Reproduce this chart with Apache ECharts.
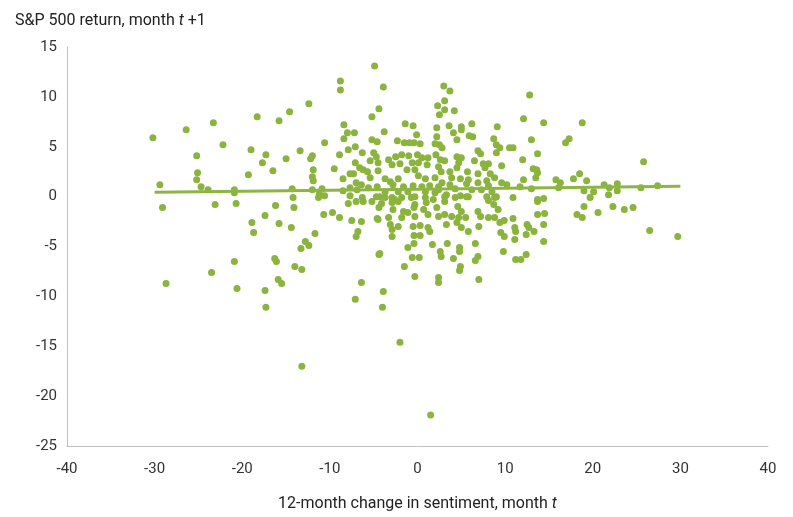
<!DOCTYPE html>
<html>
<head>
<meta charset="utf-8">
<script src="https://cdn.jsdelivr.net/npm/echarts@6/dist/echarts.min.js"></script>
<style>html,body{margin:0;padding:0;background:#fff}#c{width:793px;height:517px}</style>
</head>
<body>
<div id="c"></div>
<script>
// 12-month change in sentiment (month t), S&P 500 return (month t+1)
const sentimentChange = [
-30.2,-29.4,-26.4,-23.3,-25.2,-25.1,-25.2,-24.7,-23.9,-22.2,-20.9,-20.9,-18.3,-15.8,-14.6,-19.0,-17.3,-17.7,-16.5,-19.3,-15.0,-14.3,-14.2,
-4.9,-8.8,-8.8,-12.4,-4.4,-5.2,-8.4,-8.0,-7.2,-8.4,-5.2,-4.6,-10.6,-7.1,-7.9,-13.4,-6.3,-8.9,-12.0,-12.2,-5.0,-4.7,-7.1,-5.4,-4.5,-6.6,-6.2,-5.7,-11.9,-9.5,-7.3,-7.7,-12.0,-11.9,-8.5,-5.4,-7.0,-6.4,-12.0,-10.9,-8.5,-7.7,-6.9,-5.6,-4.6,-11.2,-10.6,-7.7,-6.3,-4.7,
-29.1,-23.1,-20.7,-16.2,-14.1,-17.4,-18.9,-18.7,-15.8,-14.4,-20.9,-23.5,-28.7,-20.6,-17.4,-17.3,-16.3,-16.1,-15.9,-15.5,-14.0,
-11.3,-7.9,-7.0,-6.2,-5.2,-4.4,-10.7,-9.7,-8.9,-7.5,-6.4,-4.6,-11.7,-12.8,-12.4,-13.3,-6.8,-7.0,-4.4,-13.2,-6.4,-7.1,
-3.9,2.3,2.5,-1.4,-0.5,-3.8,-0.1,2.2,-2.3,-1.5,-0.9,-0.4,0.3,2.0,2.5,-3.3,-2.5,-1.8,-1.0,0.0,0.5,1.2,2.1,-2.9,-2.0,-0.6,0.1,1.1,2.4,-1.2,-0.3,-4.5,-3.7,-3.1,-2.2,0.1,0.9,2.0,-2.8,-1.6,-0.5,0.5,1.4,2.4,-3.7,-2.2,-1.1,0.9,2.0,-4.3,-2.9,-0.3,
3.0,3.7,3.1,3.1,4.2,3.6,5.0,6.2,9.1,4.1,5.0,5.9,6.3,2.2,4.5,8.7,9.0,9.4,10.5,2.8,6.9,7.2,9.0,4.5,5.0,2.6,3.1,6.5,4.7,7.5,8.1,9.6,4.5,7.7,2.7,3.7,5.7,6.9,8.3,3.9,4.9,5.8,7.9,8.8,2.8,3.7,5.6,6.9,8.1,9.6,10.2,2.4,4.3,6.2,7.3,8.5,3.3,4.9,5.8,7.9,9.0,
12.8,12.1,14.4,18.8,13.0,10.9,17.3,16.9,13.7,12.0,13.2,13.6,13.7,13.5,12.1,25.8,18.5,17.8,15.8,16.3,19.3,21.3,21.9,22.8,22.8,25.5,27.4,11.7,13.0,16.1,19.0,20.1,21.8,19.7,10.9,13.7,14.4,
-3.7,-2.6,-1.8,-0.7,0.9,1.8,-4.1,-2.9,-2.2,-0.3,1.0,-2.8,-1.6,-1.1,-0.4,0.7,2.2,-3.3,-1.8,-0.3,1.2,2.4,-4.5,-3.1,-2.2,-0.5,0.3,1.2,-2.9,-2.9,-0.4,0.3,1.4,-0.4,1.7,-1.1,-4.3,2.6,-0.6,0.2,-1.5,-0.3,2.4,2.4,-3.9,-4.0,
3.1,4.3,5.6,3.1,8.1,8.8,8.7,4.6,9.2,6.9,3.1,3.9,5.0,5.5,4.7,7.2,8.1,8.8,9.4,9.9,3.3,4.5,5.0,5.8,7.0,9.5,9.9,3.4,6.6,4.8,4.8,2.7,4.1,6.9,6.6,9.8,4.9,4.8,7.0,
13.7,19.0,18.2,18.8,20.6,22.3,23.6,24.6,26.5,29.7,10.9,13.7,14.5,11.1,11.2,12.5,12.7,13.3,12.4,14.4,11.1,14.4,12.4,11.2,11.8,
-13.2,-2.0,1.5
];
const nextMonthReturn = [
5.9,1.2,6.7,7.4,4.1,2.4,1.7,1.0,0.7,5.2,0.7,0.4,8.0,7.6,8.5,4.7,4.2,3.4,2.6,2.2,3.8,0.8,-0.1,
13.1,11.6,10.7,9.3,8.8,8.0,7.2,6.4,6.4,5.8,5.7,5.5,5.4,5.0,4.7,4.6,4.4,4.2,4.1,3.8,4.4,4.0,3.4,3.6,3.4,2.9,2.7,2.5,2.7,2.8,2.3,2.3,2.0,1.6,1.8,1.9,1.4,1.2,0.7,0.8,0.6,0.9,0.7,0.9,1.0,0.3,0.1,0.1,-0.1,0.0,
-1.1,-0.8,-0.7,-0.9,-1.1,-1.9,-2.6,-3.6,-2.7,-3.1,-6.5,-7.6,-8.7,-9.2,-9.4,-11.1,-6.2,-6.5,-8.3,-8.7,-7.0,
-0.1,-0.7,-0.5,-0.5,-0.5,-1.1,-1.8,-1.6,-2.1,-2.4,-2.5,-2.2,-3.7,-4.5,-4.9,-5.2,-3.5,-4.0,-5.8,-7.3,-8.6,-10.3,
11.0,9.1,8.2,7.3,7.1,6.5,6.2,6.9,5.6,5.4,5.4,5.4,5.3,5.3,5.2,3.7,4.0,4.2,4.1,4.2,3.9,3.9,4.2,3.2,3.3,3.4,3.4,3.2,3.0,2.7,2.7,2.6,1.8,1.5,1.8,2.1,1.8,1.9,1.2,1.0,1.1,1.0,1.1,1.0,0.5,0.5,0.5,0.5,0.4,0.0,-0.1,0.0,
11.1,10.6,9.6,8.7,8.6,7.1,7.0,7.3,7.0,6.4,6.7,6.1,6.0,6.0,5.7,5.8,5.2,4.9,4.9,4.9,4.6,4.3,4.4,4.0,3.9,3.7,3.6,3.6,3.4,3.3,3.3,3.1,2.9,2.9,2.5,2.5,2.5,2.3,2.3,1.9,1.8,1.7,1.6,1.9,1.4,1.2,1.3,1.4,1.1,1.4,1.2,0.7,0.8,0.7,0.7,0.5,0.2,0.1,0.0,0.0,0.0,
10.2,7.8,7.4,7.4,5.7,4.9,5.8,5.4,4.3,3.7,2.8,2.7,2.4,1.9,1.7,3.5,2.3,1.8,1.7,1.4,1.6,1.2,0.9,1.3,0.6,0.9,1.1,1.0,0.8,0.9,0.6,0.5,0.2,-0.1,-0.1,-0.3,-0.2,
-0.1,-0.3,-0.1,-0.1,-0.1,-0.3,-0.7,-0.6,-0.5,-0.8,-0.6,-1.3,-1.5,-1.6,-1.1,-1.3,-1.1,-2.1,-2.1,-2.0,-1.8,-2.0,-2.3,-2.8,-3.0,-3.0,-2.9,-3.1,-3.3,-4.0,-3.9,-3.9,-3.5,-4.7,-4.8,-5.1,-5.7,-5.5,-6.1,-6.1,-7.0,-8.0,-8.1,-8.6,-9.5,-11.1,
0.0,-0.1,0.0,-0.5,-0.4,-0.1,-0.8,-1.0,-1.3,-1.5,-1.8,-2.0,-1.5,-2.1,-2.1,-2.0,-2.1,-2.1,-2.6,-2.4,-2.8,-2.6,-3.1,-3.5,-3.0,-3.6,-4.0,-4.7,-4.7,-5.1,-5.5,-6.0,-6.2,-6.0,-6.4,-5.5,-7.0,-7.4,-8.3,
-0.5,-1.0,-1.8,-2.1,-1.6,-1.0,-1.3,-1.1,-3.4,-4.0,-2.2,-1.8,-1.7,-3.1,-3.5,-2.8,-3.1,-3.5,-3.8,-2.8,-4.3,-4.5,-5.8,-6.3,-6.3,
-17.0,-14.6,-21.9
];
// fitted trend line end points
const trendX = [-30, 30];
const trendY = [0.43, 1.03];
const xTicks = [-40, 40, 10];
const yTicks = [-25, 15, 5];

const green = '#8ab43d';
const points = sentimentChange.map((x, i) => [x, nextMonthReturn[i]]);
const trend = trendX.map((x, i) => [x, trendY[i]]);

const chart = echarts.init(document.getElementById('c'));
chart.setOption({
  animation: false,
  textStyle: { fontFamily: 'Roboto' },
  title: {
    text: 'S&P 500 return, month {i|t} +1',
    left: 10, top: 8,
    textStyle: {
      fontSize: 16, fontWeight: 'normal', color: '#222', fontFamily: 'Roboto',
      rich: { i: { fontStyle: 'italic', fontSize: 16, color: '#222', fontFamily: 'Roboto' } }
    }
  },
  grid: { left: 67, right: 25, top: 47, bottom: 70 },
  xAxis: {
    type: 'value', min: xTicks[0], max: xTicks[1], interval: xTicks[2],
    name: '12-month change in sentiment, month {i|t}',
    nameLocation: 'middle', nameGap: 50,
    nameTextStyle: {
      fontSize: 16, color: '#222', fontFamily: 'Roboto',
      rich: { i: { fontStyle: 'italic', fontSize: 16, color: '#222', fontFamily: 'Roboto' } }
    },
    axisLine: { show: true, onZero: false, lineStyle: { color: '#bfbfbf', width: 1 } },
    axisTick: { show: false },
    splitLine: { show: false },
    axisLabel: { fontSize: 15, color: '#333', margin: 16 }
  },
  yAxis: {
    type: 'value', min: yTicks[0], max: yTicks[1], interval: yTicks[2],
    axisLine: { show: true, onZero: false, lineStyle: { color: '#bfbfbf', width: 1 } },
    axisTick: { show: false },
    splitLine: { show: false },
    axisLabel: { fontSize: 15, color: '#333', margin: 10 }
  },
  series: [
    {
      type: 'scatter', data: points, symbolSize: 7,
      itemStyle: { color: green, opacity: 1 }
    },
    {
      type: 'line', data: trend, symbol: 'none', z: 3,
      lineStyle: { color: '#8db543', width: 3 }
    }
  ]
});
</script>
</body>
</html>
